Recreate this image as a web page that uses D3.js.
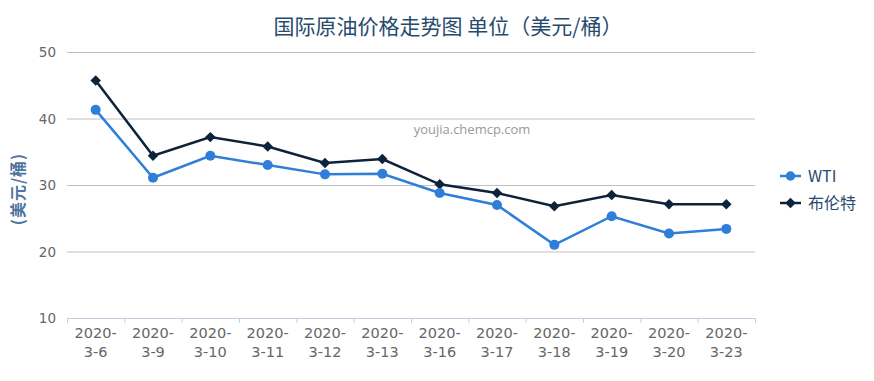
<!DOCTYPE html>
<html>
<head>
<meta charset="utf-8">
<script src="https://cdn.jsdelivr.net/npm/d3@7"></script>
<style>
  body { margin: 0; background: #fff; }
  text { font-family: "Noto Sans CJK SC", "DejaVu Sans", sans-serif; }
</style>
</head>
<body>
<script>
// chart data
const dates = ["2020-3-6", "2020-3-9", "2020-3-10", "2020-3-11", "2020-3-12", "2020-3-13",
  "2020-3-16", "2020-3-17", "2020-3-18", "2020-3-19", "2020-3-20", "2020-3-23"];
const wti = [41.3, 31.1, 34.4, 33.0, 31.6, 31.7, 28.8, 27.0, 21.0, 25.3, 22.7, 23.4];
const brent = [45.7, 34.4, 37.2, 35.8, 33.3, 33.9, 30.1, 28.8, 26.8, 28.5, 27.1, 27.1];
const yTicks = [10, 20, 30, 40, 50];
const seriesNames = ["WTI", "布伦特"];
const seriesColors = ["#2f7ed8", "#0d233a"];

const w = 874, h = 381;
const plotLeft = 67, plotRight = 755, plotTop = 52, plotBottom = 318;

let svg = d3.select("body").append("svg")
  .attr("width", w)
  .attr("height", h);

let x = d3.scaleBand().domain(dates).range([plotLeft, plotRight]);
let y = d3.scaleLinear().domain([10, 50]).range([plotBottom, plotTop]);

// title
svg.append("text")
  .attr("x", 448).attr("y", 34)
  .attr("text-anchor", "middle")
  .attr("font-size", 21)
  .attr("fill", "#274b6d")
  .text("国际原油价格走势图 单位（美元/桶）");

// grid + y labels
svg.append("g").selectAll("line")
  .data(yTicks.filter(d => d > 10))
  .enter().append("line")
  .attr("x1", plotLeft).attr("x2", plotRight)
  .attr("y1", d => y(d) + 0.5).attr("y2", d => y(d) + 0.5)
  .attr("stroke", "#c0c0c0");

svg.append("g").selectAll("text")
  .data(yTicks)
  .enter().append("text")
  .attr("x", 56).attr("y", d => y(d) + 5)
  .attr("text-anchor", "end")
  .attr("font-size", 13.5)
  .attr("fill", "#666")
  .style("font-family", "'DejaVu Sans', sans-serif")
  .text(d => d);

// y title
svg.append("text")
  .attr("transform", "translate(24," + 189 + ") rotate(-90)")
  .attr("text-anchor", "middle")
  .attr("font-size", 16)
  .attr("font-weight", "bold")
  .attr("letter-spacing", 1)
  .attr("fill", "#4d759e")
  .text("(美元/桶)");

// x axis
svg.append("line")
  .attr("x1", plotLeft).attr("x2", plotRight)
  .attr("y1", plotBottom + 0.5).attr("y2", plotBottom + 0.5)
  .attr("stroke", "#c0d0e0");

svg.append("g").selectAll("line")
  .data(dates.concat(["end"]))
  .enter().append("line")
  .attr("x1", (d, i) => plotLeft + i * x.bandwidth() + 0.5)
  .attr("x2", (d, i) => plotLeft + i * x.bandwidth() + 0.5)
  .attr("y1", plotBottom).attr("y2", plotBottom + 5)
  .attr("stroke", "#c0d0e0");

let xl = svg.append("g").selectAll("text")
  .data(dates)
  .enter().append("text")
  .attr("text-anchor", "middle")
  .attr("font-size", 14.5)
  .attr("fill", "#666")
  .style("font-family", "'DejaVu Sans', sans-serif");
xl.append("tspan")
  .attr("x", d => x(d) + x.bandwidth() / 2)
  .attr("y", 338)
  .text(d => d.slice(0, 5));
xl.append("tspan")
  .attr("x", d => x(d) + x.bandwidth() / 2)
  .attr("y", 357)
  .text(d => d.slice(5));

// watermark
svg.append("text")
  .attr("x", 472).attr("y", 134)
  .attr("text-anchor", "middle")
  .attr("font-size", 13)
  .attr("fill", "#999")
  .style("font-family", "'Open Sans', sans-serif")
  .text("youjia.chemcp.com");

// series
const cx = (d, i) => x(dates[i]) + x.bandwidth() / 2;
const line = d3.line().x(cx).y(d => y(d));
[wti, brent].forEach((vals, s) => {
  svg.append("path")
    .datum(vals)
    .attr("d", line)
    .attr("fill", "none")
    .attr("stroke", seriesColors[s])
    .attr("stroke-width", 2.5);
});

svg.append("g").selectAll("path")
  .data(brent)
  .enter().append("path")
  .attr("d", d3.symbol(d3.symbolDiamond2, 70))
  .attr("transform", (d, i) => "translate(" + cx(d, i) + "," + y(d) + ")")
  .attr("fill", seriesColors[1]);

svg.append("g").selectAll("circle")
  .data(wti)
  .enter().append("circle")
  .attr("cx", cx).attr("cy", d => y(d))
  .attr("r", 5)
  .attr("fill", seriesColors[0]);

// legend
let lg = svg.append("g").selectAll("g")
  .data(seriesNames)
  .enter().append("g")
  .attr("transform", (d, i) => "translate(780," + (176 + i * 27) + ")");
lg.append("line")
  .attr("x1", 0).attr("x2", 21)
  .attr("stroke", (d, i) => seriesColors[i])
  .attr("stroke-width", 2.5);
lg.append("path")
  .attr("d", (d, i) => i === 0 ? d3.symbol(d3.symbolCircle, 70)() : d3.symbol(d3.symbolDiamond2, 70)())
  .attr("transform", "translate(10.5,0)")
  .attr("fill", (d, i) => seriesColors[i]);
lg.append("text")
  .attr("x", 28).attr("y", 6)
  .attr("font-size", 16)
  .attr("fill", "#274b6d")
  .text(d => d);
</script>
</body>
</html>
